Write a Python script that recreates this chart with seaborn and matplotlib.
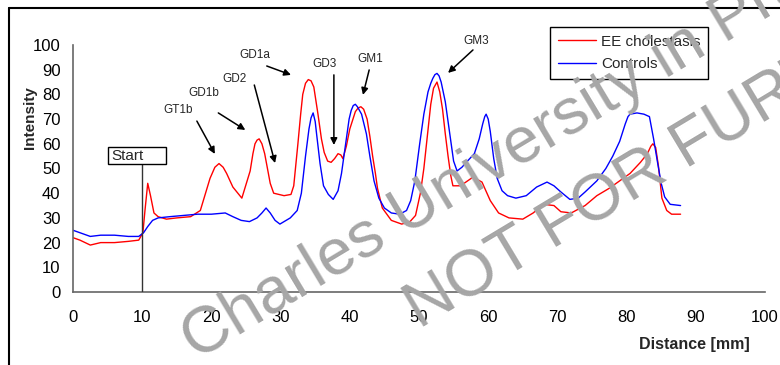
import numpy as np
import pandas as pd
import matplotlib
matplotlib.use("Agg")
import matplotlib.pyplot as plt
from matplotlib.lines import Line2D
from matplotlib.patches import Rectangle
import seaborn as sns

# EE cholestasis profile
ee_dist = [0, 1, 2.5, 4, 6, 8, 9.5, 10.1, 10.4, 10.8, 11.2, 11.7, 12.3, 13.5, 15, 17,
           18.4, 19.8, 20.5, 21.1, 21.7, 22.2, 23.1, 24.4, 25.6, 26.0, 26.3, 26.6, 26.9,
           27.3, 27.7, 28.1, 28.5, 29.0, 30.5, 31.5, 31.9, 32.5, 32.9, 33.2, 33.6, 34.0,
           34.4, 34.8, 35.4, 35.9, 36.3, 36.8, 37.3, 37.8, 38.3, 38.7, 39.0, 39.5, 40.0,
           40.8, 41.2, 41.6, 42.0, 42.5, 42.9, 43.3, 43.7, 44.0, 44.7, 46.0, 47.5, 48.7,
           49.5, 50.2, 50.7, 51.2, 51.7, 52.1, 52.6, 53.0, 53.4, 53.8, 54.2, 54.6, 54.9,
           56.0, 57.8, 59.1, 60.3, 61.5, 63.0, 65.0, 66.5, 68.0, 69.5, 70.5, 72.0, 74.0,
           75.7, 77.5, 79.0, 80.5, 82.0, 83.0, 83.5, 83.8, 84.2, 84.6, 85.1, 85.8, 86.5,
           87.8]
ee_int = [22, 21, 19, 20, 20, 20.5, 21, 24, 33, 44, 39, 32, 30.5, 29.5, 30, 30.5,
          33, 46, 50.5, 52, 50.5, 48, 42.5, 38, 49, 56, 60, 61.5, 62,
          60, 56, 50, 44, 40, 39, 39.5, 43, 60, 72, 80, 84.5, 86,
          85.5, 83, 72, 62, 56.5, 53, 52.5, 54, 56, 55.5, 54, 59, 66,
          73, 74.5, 75, 74, 70, 63, 55, 48, 42, 34, 29, 27.5, 28.5,
          31, 40, 50, 63, 76, 82.5, 85, 81, 74, 64, 55, 47, 43,
          43, 46.5, 44.5, 37, 32, 30, 29.5, 32, 35.5, 35, 32.5, 32, 35,
          39, 42, 45, 48, 52.5, 56, 59, 60, 58.5, 51, 38, 33, 31.5,
          31.5]

# Controls profile
ctl_dist = [0, 1, 2.5, 4, 6, 8, 9.5, 10.2, 10.8, 11.5, 12.3, 14, 16, 18, 20, 22, 23.1,
            24.3, 25.5, 26.6, 27.3, 27.9, 28.5, 29.2, 29.9, 31.4, 32.4, 33.0, 33.6, 34.1,
            34.4, 34.7, 35.0, 35.2, 35.7, 36.2, 36.9, 37.6, 38.3, 38.8, 39.4, 39.9, 40.2,
            40.5, 40.8, 41.1, 41.7, 42.4, 42.9, 43.5, 44.2, 45.0, 46.0, 47.2, 48.2, 48.8,
            49.4, 50.1, 50.7, 51.3, 51.7, 52.0, 52.3, 52.6, 52.9, 53.2, 53.8, 54.5, 55.0,
            55.5, 56.2, 57.0, 58.0, 58.7, 59.2, 59.5, 59.7, 60.0, 60.3, 60.8, 61.3, 62.0,
            62.8, 64.0, 65.5, 67.0, 68.5, 69.5, 70.5, 71.8, 73.0, 74.0, 75.7, 77.0, 78.0,
            79.0, 79.8, 80.2, 80.5, 81.5, 82.5, 83.3, 83.9, 84.5, 85.0, 85.5, 86.3, 87.8]
ctl_int = [25, 24, 22.5, 23, 23, 22.5, 22.5, 24, 26.5, 29, 30, 30.5, 31, 31.5, 31.5, 32, 30.5,
           29, 28.5, 30, 32, 34, 32, 29, 27.5, 30, 33, 40, 55, 66,
           70.5, 72.5, 69, 64, 52, 43, 39.5, 37.5, 41, 48, 60, 70, 73.5,
           75.5, 76, 75, 72, 64, 55, 45, 38, 34, 32, 31.5, 33, 37,
           45, 60, 72, 81, 84.5, 86.5, 88, 88.5, 87.5, 85, 77, 63, 53,
           49, 50.5, 53, 56, 62, 68, 71, 72, 70, 65, 54, 46, 41,
           39, 38, 39, 42.5, 44.5, 43, 40.5, 37.5, 38, 40.5, 45, 50, 55,
           61, 68, 71, 72, 72.5, 72, 71, 62, 52, 44, 38.5, 35.5, 35]

groups = ["EE cholestasis", "Controls"]
colors = ["#ff0000", "#0000ff"]

band_labels = ["GT1b", "GD1b", "GD2", "GD1a", "GD3", "GM1", "GM3"]

df = pd.concat([
    pd.DataFrame({"distance": ee_dist, "intensity": ee_int, "group": groups[0]}),
    pd.DataFrame({"distance": ctl_dist, "intensity": ctl_int, "group": groups[1]}),
], ignore_index=True)

sns.set_style("white")
plt.rcParams["font.family"] = ["Liberation Sans", "DejaVu Sans"]

fig = plt.figure(figsize=(7.8, 3.65), dpi=100)
ax = fig.add_axes([73 / 780, 1 - 292 / 365, 692 / 780, 247 / 365])

sns.lineplot(data=df, x="distance", y="intensity", hue="group", hue_order=groups,
             palette=colors, estimator=None, linewidth=1.0, ax=ax)

ax.set_xlim(0, 100)
ax.set_ylim(0, 100)
ax.set_xticks(range(0, 101, 10))
ax.set_yticks(range(0, 101, 10))
ax.set_xlabel("")
ax.set_ylabel("")
for s in ["top", "right"]:
    ax.spines[s].set_visible(False)
for s in ["left", "bottom"]:
    ax.spines[s].set_color("#666666")
    ax.spines[s].set_linewidth(1.2)
ax.tick_params(axis="both", direction="out", length=5, width=1, color="#666666",
               labelsize=12, labelcolor="black")
ax.tick_params(axis="x", pad=8)
ax.tick_params(axis="y", pad=4)

# start marker
ax.plot([10, 10], [0, 51.8], color="#333333", lw=1, zorder=4)
ax.add_patch(Rectangle((5.06, 51.8), 8.34, 6.9, facecolor="white", edgecolor="black",
                       lw=1, zorder=5))
ax.text(5.6, 55.1, "Start", fontsize=11, va="center", ha="left", zorder=6)

# band annotations
label_pos = [(15.2, 73.7), (18.9, 80.6), (23.4, 86.2), (26.3, 96), (36.4, 92.3),
             (42.9, 94.3), (58.2, 101.6)]
arrow_from = [(17.9, 69.2), (21.0, 72.5), (26.2, 83.8), (28.0, 91.5), (37.7, 87.9),
              (42.8, 89.9), (57.8, 98)]
arrow_to = [(20.5, 55.9), (24.9, 65.6), (29.2, 52.2), (31.5, 87.9), (37.7, 59.5),
            (41.9, 79.8), (54.2, 88.7)]
for lab, tp, a0, a1 in zip(band_labels, label_pos, arrow_from, arrow_to):
    ax.text(tp[0], tp[1], lab, fontsize=8.5, ha="center", va="center")
    ax.annotate("", xy=a1, xytext=a0,
                arrowprops=dict(arrowstyle="-|>", color="black", lw=1.1,
                                mutation_scale=10, shrinkA=0, shrinkB=0))

handles, labels = ax.get_legend_handles_labels()
leg = ax.legend(handles, labels, loc="upper left", bbox_to_anchor=(550 / 780, 1 - 27 / 365),
                bbox_transform=fig.transFigure, fontsize=11, frameon=True, fancybox=False,
                edgecolor="black", framealpha=1, borderpad=0.5, labelspacing=0.55,
                handlelength=2.5, handletextpad=0.35, borderaxespad=0)
leg.get_frame().set_linewidth(1)

fig.text(30 / 780, 1 - 118 / 365, "Intensity", rotation=90, fontsize=11,
         fontweight="bold", ha="center", va="center")
fig.text(750 / 780, 1 - 345 / 365, "Distance [mm]", fontsize=11.5, fontweight="bold",
         ha="right", va="center")

# chart area border (cropped)
fig.add_artist(Line2D([9 / 780, 1], [1 - 8 / 365, 1 - 8 / 365], transform=fig.transFigure,
                      color="black", lw=1.5))
fig.add_artist(Line2D([9 / 780, 9 / 780], [0, 1 - 8 / 365], transform=fig.transFigure,
                      color="black", lw=1.5))

# watermark
wm = dict(rotation=31, rotation_mode="anchor", ha="left", va="baseline", fontsize=47,
          color="#a6a6a6", zorder=20)
fig.text(196 / 780, 1 - 361 / 365, "Charles University in Prague", **wm)
fig.text(420 / 780, 1 - 330 / 365, "NOT FOR FURTHER DISTRIBUTION", **wm)

fig.savefig("out.png", dpi=100)
